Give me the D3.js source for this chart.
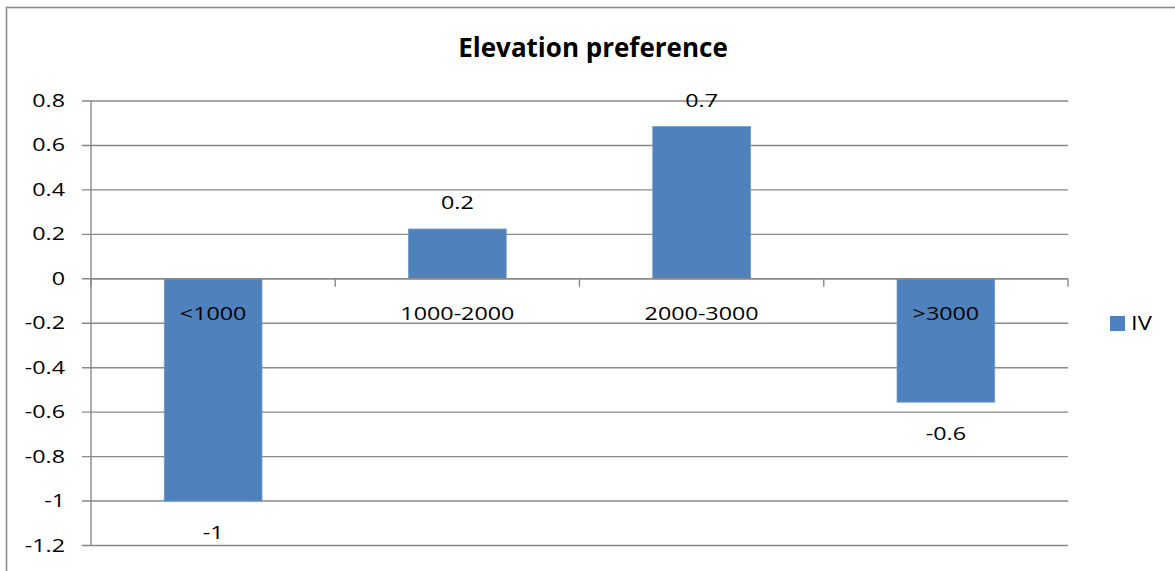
<!DOCTYPE html>
<html>
<head>
<meta charset="utf-8">
<script src="https://cdn.jsdelivr.net/npm/d3@7"></script>
<style>
  html, body { margin: 0; padding: 0; background: #ffffff; }
  svg { display: block; }
  text { font-family: "Open Sans", "Noto Sans", sans-serif; fill: #000; }
</style>
</head>
<body>
<svg id="chart" width="1175" height="571"></svg>
<script>
// Elevation classes and their IV values
const categories = ["<1000", "1000-2000", "2000-3000", ">3000"];
const ivValues = [-1.0, 0.224, 0.685, -0.555];
const seriesName = "IV";
const yTicks = [0.8, 0.6, 0.4, 0.2, 0, -0.2, -0.4, -0.6, -0.8, -1, -1.2];
const chartTitle = "Elevation preference";

const W = 1175, H = 571;
const plot = { left: 91, right: 1068, top: 101, bottom: 545.5 };
const gridColor = "#898989";
const barColor = "#4F81BD";
const labelSize = "18.5px";
const sx = 1.26; // horizontal stretch applied to label text

const fmt = d3.formatLocale({ decimal: ".", thousands: ",", grouping: [3], currency: ["", ""], minus: "-" })
  .format(".1~f");

const svg = d3.select("#chart");

const x = d3.scaleBand()
  .domain(categories)
  .range([plot.left, plot.right])
  .paddingInner(0.6)
  .paddingOuter(0.3);

const y = d3.scaleLinear()
  .domain([-1.2, 0.8])
  .range([plot.bottom, plot.top]);

// Place a text node at (px, py) with a horizontal stretch
function placeText(sel, px, py, k) {
  sel.attr("transform", (d, i) => `translate(${px(d, i)},${py(d, i)}) scale(${k},1)`);
}

// Chart-area border
svg.append("rect")
  .attr("x", 6.5).attr("y", 7.5)
  .attr("width", W + 10).attr("height", H + 10)
  .attr("fill", "none")
  .attr("stroke", "#8a8a8a")
  .attr("stroke-width", 1.6);

// Horizontal gridlines (extending left as tick marks)
svg.append("g").selectAll("line")
  .data(yTicks)
  .join("line")
  .attr("x1", plot.left - 9).attr("x2", plot.right)
  .attr("y1", d => y(d)).attr("y2", d => y(d))
  .attr("stroke", gridColor)
  .attr("stroke-width", 1.4);

// Value axis line
svg.append("line")
  .attr("x1", plot.left).attr("x2", plot.left)
  .attr("y1", y(0.8)).attr("y2", y(-1.2))
  .attr("stroke", gridColor).attr("stroke-width", 1.4);

// Bars
svg.append("g").selectAll("rect")
  .data(ivValues)
  .join("rect")
  .attr("x", (d, i) => x(categories[i]))
  .attr("width", x.bandwidth())
  .attr("y", d => y(Math.max(0, d)))
  .attr("height", d => Math.abs(y(d) - y(0)))
  .attr("fill", barColor)
  .attr("stroke", "#6f98c9")
  .attr("stroke-width", 0.8);

// Category axis at zero, with ticks between categories
svg.append("line")
  .attr("x1", plot.left).attr("x2", plot.right)
  .attr("y1", y(0)).attr("y2", y(0))
  .attr("stroke", gridColor).attr("stroke-width", 1.4);

const step = (plot.right - plot.left) / categories.length;
svg.append("g").selectAll("line")
  .data(d3.range(categories.length + 1))
  .join("line")
  .attr("x1", i => plot.left + i * step).attr("x2", i => plot.left + i * step)
  .attr("y1", y(0)).attr("y2", y(0) + 8)
  .attr("stroke", gridColor).attr("stroke-width", 1.4);

// Y tick labels
svg.append("g").selectAll("text")
  .data(yTicks)
  .join("text")
  .attr("text-anchor", "end")
  .attr("dominant-baseline", "central")
  .style("font-size", labelSize)
  .text(d => fmt(d))
  .call(placeText, () => 65, d => y(d) - 1, sx);

// Category labels
svg.append("g").selectAll("text")
  .data(categories)
  .join("text")
  .attr("text-anchor", "middle")
  .attr("dominant-baseline", "central")
  .style("font-size", labelSize)
  .text(d => d)
  .call(placeText, d => x(d) + x.bandwidth() / 2, () => y(0) + 34, sx);

// Value labels
svg.append("g").selectAll("text")
  .data(ivValues)
  .join("text")
  .attr("text-anchor", "middle")
  .attr("dominant-baseline", "central")
  .style("font-size", labelSize)
  .text(d => fmt(d))
  .call(placeText,
    (d, i) => x(categories[i]) + x.bandwidth() / 2,
    d => d >= 0 ? y(d) - 27 : y(d) + 31, sx);

// Title
svg.append("text")
  .attr("text-anchor", "middle")
  .style("font-size", "26px")
  .style("font-weight", "700")
  .text(chartTitle)
  .call(placeText, () => 593, () => 57, 1.0);

// Legend
const legend = svg.append("g");
legend.append("rect")
  .attr("x", 1110).attr("y", 316)
  .attr("width", 15).attr("height", 15)
  .attr("fill", barColor);
legend.append("text")
  .datum(seriesName)
  .attr("dominant-baseline", "central")
  .style("font-size", "19.5px")
  .text(d => d)
  .call(placeText, () => 1131, () => 322.5, 1.22);
</script>
</body>
</html>
